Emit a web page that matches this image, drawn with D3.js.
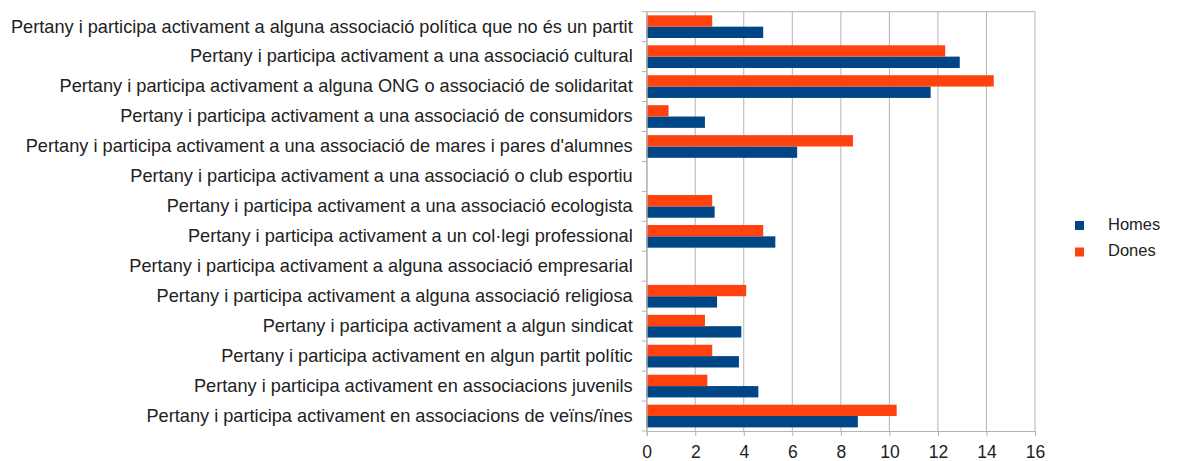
<!DOCTYPE html>
<html>
<head>
<meta charset="utf-8">
<script src="https://cdn.jsdelivr.net/npm/d3@7"></script>
<style>
  html, body { margin: 0; padding: 0; background: #fff; }
  svg { display: block; }
  text { font-family: "Liberation Sans", Arial, sans-serif; fill: #222; }
</style>
</head>
<body>
<svg id="chart" width="1177" height="461"></svg>
<script>
// categories, top to bottom
const categories = [
  "Pertany i participa activament a alguna associació política que no és un partit",
  "Pertany i participa activament a una associació cultural",
  "Pertany i participa activament a alguna ONG o associació de solidaritat",
  "Pertany i participa activament a una associació de consumidors",
  "Pertany i participa activament a una associació de mares i pares d'alumnes",
  "Pertany i participa activament a una associació o club esportiu",
  "Pertany i participa activament a una associació ecologista",
  "Pertany i participa activament a un col·legi professional",
  "Pertany i participa activament a alguna associació empresarial",
  "Pertany i participa activament a alguna associació religiosa",
  "Pertany i participa activament a algun sindicat",
  "Pertany i participa activament en algun partit polític",
  "Pertany i participa activament en associacions juvenils",
  "Pertany i participa activament en associacions de veïns/ïnes"
];
const homes = [4.8, 12.9, 11.7, 2.4, 6.2, 0, 2.8, 5.3, 0, 2.9, 3.9, 3.8, 4.6, 8.7];
const dones = [2.7, 12.3, 14.3, 0.9, 8.5, 0, 2.7, 4.8, 0, 4.1, 2.4, 2.7, 2.5, 10.3];
const seriesNames = ["Homes", "Dones"];
const xTicks = [0, 2, 4, 6, 8, 10, 12, 14, 16];

const colors = { Homes: "#004586", Dones: "#ff420e" };

const margin = { top: 11.7, left: 646.7 };
const plotW = 1035 - 646.7;
const plotH = 431 - 11.7;

const svg = d3.select("#chart");
const g = svg.append("g").attr("transform", `translate(${margin.left},${margin.top})`);

const x = d3.scaleLinear().domain([0, 16]).range([0, plotW]);
const y = d3.scaleBand().domain(categories).range([0, plotH]).paddingInner(0).paddingOuter(0);
const inner = d3.scaleBand().domain(["Dones", "Homes"]).range([0, y.bandwidth()]).paddingOuter(0.32).paddingInner(0);

// grid
g.selectAll("line.grid")
  .data(xTicks)
  .join("line")
  .attr("class", "grid")
  .attr("x1", d => x(d)).attr("x2", d => x(d))
  .attr("y1", 0).attr("y2", plotH)
  .attr("stroke", "#b3b3b3").attr("stroke-width", 1);

// top border
g.append("line")
  .attr("x1", 0).attr("x2", plotW).attr("y1", 0).attr("y2", 0)
  .attr("stroke", "#b3b3b3");

// bars
const rows = categories.map((c, i) => ({ cat: c, Homes: homes[i], Dones: dones[i] }));
const groups = g.selectAll("g.row")
  .data(rows)
  .join("g")
  .attr("class", "row")
  .attr("transform", d => `translate(0,${y(d.cat)})`);

groups.selectAll("rect")
  .data(d => seriesNames.map(s => ({ s, v: d[s] })))
  .join("rect")
  .attr("x", 0)
  .attr("y", d => inner(d.s))
  .attr("width", d => x(d.v))
  .attr("height", inner.bandwidth())
  .attr("fill", d => colors[d.s]);

// y axis
const yAxis = g.append("g")
  .call(d3.axisLeft(y).tickSize(0).tickPadding(14));
yAxis.select(".domain").attr("stroke", "#b3b3b3");
yAxis.selectAll("text").attr("font-size", 18.2).attr("fill", "#222").style("font-family", "Liberation Sans, Arial, sans-serif");

// band boundary ticks
g.selectAll("line.ytick")
  .data(d3.range(categories.length + 1))
  .join("line")
  .attr("class", "ytick")
  .attr("x1", -5).attr("x2", 0)
  .attr("y1", i => i * y.step()).attr("y2", i => i * y.step())
  .attr("stroke", "#b3b3b3");

// x axis
const xAxis = g.append("g")
  .attr("transform", `translate(0,${plotH})`)
  .call(d3.axisBottom(x).tickValues(xTicks).tickSize(5).tickPadding(10));
xAxis.select(".domain").attr("stroke", "#b3b3b3");
xAxis.selectAll("line").attr("stroke", "#b3b3b3");
xAxis.selectAll("text").attr("font-size", 17.5).attr("fill", "#222").style("font-family", "Liberation Sans, Arial, sans-serif");

// legend
const legend = svg.append("g").attr("transform", "translate(1075,221)");
seriesNames.forEach((s, i) => {
  const row = legend.append("g").attr("transform", `translate(0,${i * 26.5})`);
  row.append("rect").attr("width", 9).attr("height", 9).attr("fill", colors[s]);
  row.append("text").attr("x", 33).attr("y", 8.5).attr("font-size", 16.5).text(s);
});
</script>
</body>
</html>
